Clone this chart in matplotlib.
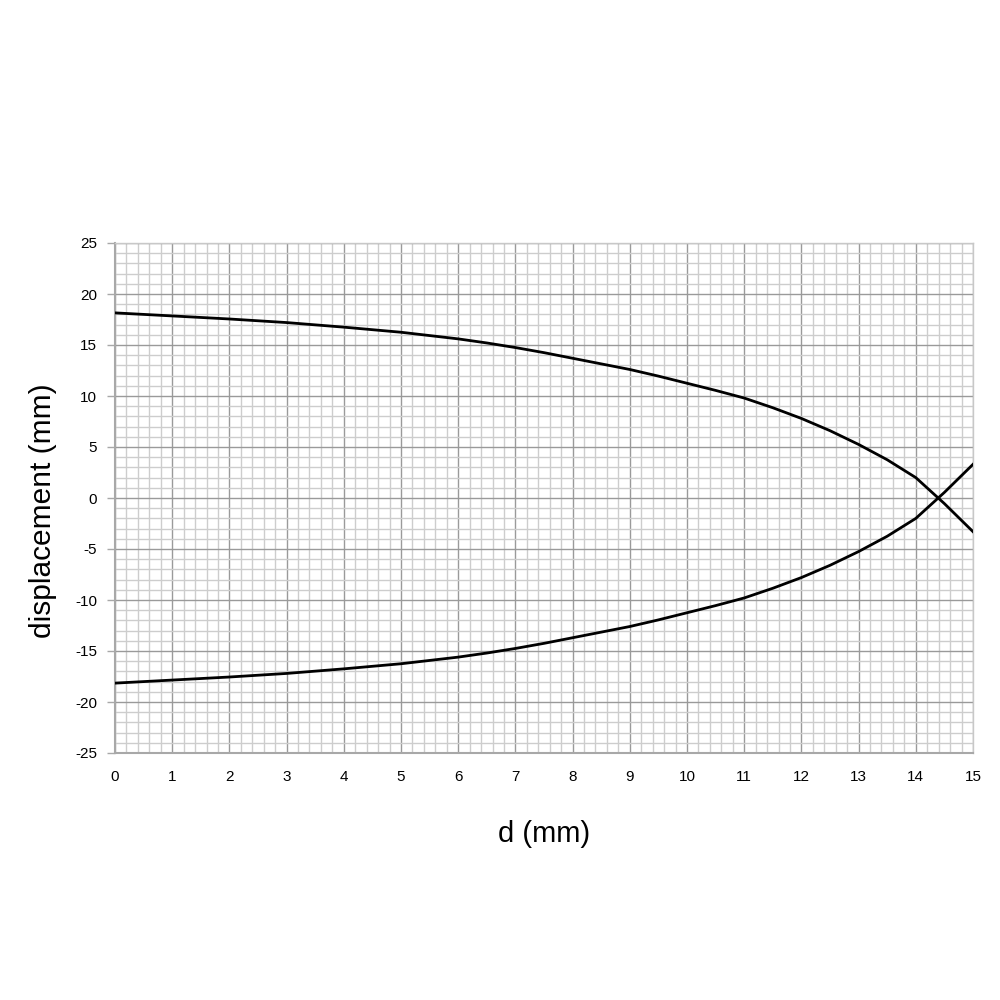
import numpy as np
import matplotlib.pyplot as plt
from matplotlib.ticker import MultipleLocator

# values
d_mm = [0, 1, 2, 3, 4, 5, 6, 6.5, 7, 7.5, 8, 8.5, 9, 9.5, 10, 10.5, 11, 11.5,
        12, 12.5, 13, 13.5, 14, 14.5, 15]
upper = [18.15, 17.85, 17.55, 17.2, 16.75, 16.25, 15.6, 15.2, 14.75, 14.25,
         13.7, 13.15, 12.6, 11.95, 11.25, 10.55, 9.8, 8.85, 7.8, 6.6, 5.25,
         3.75, 2.0, -0.55, -3.3]
lower = [-18.15, -17.85, -17.55, -17.2, -16.75, -16.25, -15.6, -15.2, -14.75,
         -14.25, -13.7, -13.15, -12.6, -11.95, -11.25, -10.55, -9.8, -8.85,
         -7.8, -6.6, -5.25, -3.75, -2.0, 0.55, 3.3]

x_ticks = list(range(0, 16))
y_ticks = list(range(-25, 30, 5))

plt.rcParams["font.family"] = ["Liberation Sans", "DejaVu Sans"]
plt.rcParams["axes.unicode_minus"] = False

fig = plt.figure(figsize=(10, 10), dpi=100)
ax = fig.add_axes([0.115, 0.247, 0.858, 0.510])

ax.plot(d_mm, upper, color="black", linewidth=2.0, zorder=3)
ax.plot(d_mm, lower, color="black", linewidth=2.0, zorder=3)

ax.set_xlim(0, 15)
ax.set_ylim(-25, 25)
ax.set_xticks(x_ticks)
ax.set_yticks(y_ticks)
ax.xaxis.set_minor_locator(MultipleLocator(0.2))
ax.yaxis.set_minor_locator(MultipleLocator(1))

ax.grid(which="minor", color="#cdcdcd", linewidth=1.0, zorder=0)
ax.grid(which="major", color="#9a9a9a", linewidth=1.0, zorder=1)
ax.set_axisbelow(True)

for side in ["top", "right"]:
    ax.spines[side].set_color("#c8c8c8")
    ax.spines[side].set_linewidth(1.0)
for side in ["left", "bottom"]:
    ax.spines[side].set_color("#a8a8a8")
    ax.spines[side].set_linewidth(1.5)

ax.tick_params(axis="y", which="major", length=6, width=1, color="#a8a8a8",
               labelsize=11, pad=7)
ax.tick_params(axis="x", which="major", length=0, labelsize=11, pad=12)
ax.tick_params(which="minor", length=0)

ax.set_xlabel("d (mm)", fontsize=21, labelpad=26)
ax.set_ylabel("displacement (mm)", fontsize=21.5, labelpad=13)
ax.yaxis.label.set_y(0.476)

fig.savefig("out.png", dpi=100, facecolor="white")
